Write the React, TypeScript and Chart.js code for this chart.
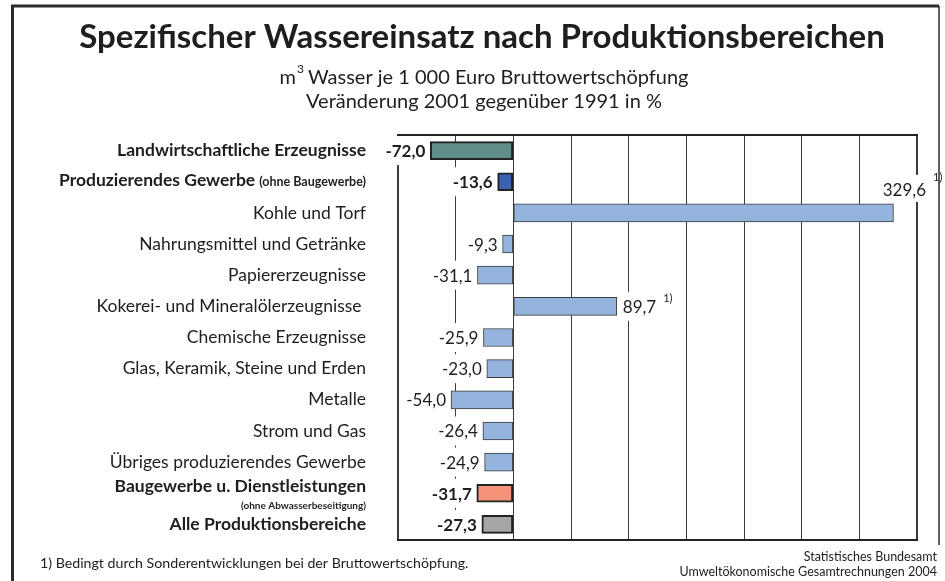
import React, { useEffect, useRef } from 'react';
import { Chart, registerables } from 'chart.js';

Chart.register(...registerables);

// ---------- data ----------
const categories = [
  'Landwirtschaftliche Erzeugnisse',
  'Produzierendes Gewerbe',
  'Kohle und Torf',
  'Nahrungsmittel und Getränke',
  'Papiererzeugnisse',
  'Kokerei- und Mineralölerzeugnisse ',
  'Chemische Erzeugnisse',
  'Glas, Keramik, Steine und Erden',
  'Metalle',
  'Strom und Gas',
  'Übriges produzierendes Gewerbe',
  'Baugewerbe u. Dienstleistungen',
  'Alle Produktionsbereiche',
];
const categoryNotes = ['', '(ohne Baugewerbe)', '', '', '', '', '', '', '', '', '', '(ohne Abwasserbeseitigung)', ''];
const values = [-72.0, -13.6, 329.6, -9.3, -31.1, 89.7, -25.9, -23.0, -54.0, -26.4, -24.9, -31.7, -27.3];
const footnoteMarks = ['', '', '1)', '', '', '1)', '', '', '', '', '', '', ''];
const summaryRows = [true, true, false, false, false, false, false, false, false, false, false, true, true];
const xMin = -100;
const xMax = 350;
const xStep = 50;

const titleText = 'Spezifischer Wassereinsatz nach Produktionsbereichen';
const subtitleUnitA = 'm';
const subtitleUnitSup = '3';
const subtitleUnitB = ' Wasser je 1 000 Euro Bruttowertschöpfung';
const subtitle2 = 'Veränderung 2001 gegenüber 1991 in %';
const footnoteText = '1) Bedingt durch Sonderentwicklungen bei der Bruttowertschöpfung.';
const sourceLine1 = 'Statistisches Bundesamt';
const sourceLine2 = 'Umweltökonomische Gesamtrechnungen 2004';

// ---------- styles ----------
const FONT = 'Lato, "Open Sans", sans-serif';
const summaryColors = ['#5f8f88', '#3b62b0', '', '', '', '', '', '', '', '', '', '#f4937a', '#a6a6a9'];
const detailColor = '#94b4de';
const TEXT = '#1e1e1e';

const fmt = (v: number) => v.toFixed(1).replace('.', ',');

const textPlugin = {
  id: 'customTexts',
  afterDatasetsDraw(chart: any) {
    const { ctx, chartArea, scales } = chart;
    const x = scales.x;
    const y = scales.y;
    ctx.save();
    ctx.textBaseline = 'middle';

    // value labels with white boxes (they interrupt the grid)
    values.forEach((v, i) => {
      const yc = y.getPixelForValue(i);
      const xe = x.getPixelForValue(v);
      const bold = summaryRows[i];
      ctx.font = `${bold ? 'bold ' : ''}17px ${FONT}`;
      const label = fmt(v);
      const w = ctx.measureText(label).width;
      let left: number;
      let ty = yc;
      let above = false;
      if (v < 0) {
        left = xe - 5 - w;
      } else {
        left = xe + 6;
        if (left + w > chartArea.right - 4) {
          left = chartArea.right + 9 - w;
          ty = yc - 23;
          above = true;
        }
      }
      ctx.fillStyle = '#ffffff';
      if (above) ctx.fillRect(left - 2, ty - 15, w + 4, 27);
      else ctx.fillRect(left - 2, ty - 14.5, w + 4, 29);
      ctx.fillStyle = TEXT;
      ctx.textAlign = 'left';
      ctx.fillText(label, left, ty + 1);
      if (footnoteMarks[i]) {
        ctx.font = `11px ${FONT}`;
        ctx.fillText(footnoteMarks[i], left + w + 7, ty + 1 - (above ? 13 : 9));
      }
    });

    // plot frame top & bottom
    ctx.strokeStyle = '#222';
    ctx.lineWidth = 2;
    ctx.beginPath();
    ctx.moveTo(chartArea.left - 1, chartArea.top);
    ctx.lineTo(chartArea.right + 1, chartArea.top);
    ctx.moveTo(chartArea.left - 1, chartArea.bottom);
    ctx.lineTo(chartArea.right + 1, chartArea.bottom);
    ctx.stroke();
    ctx.restore();
  },
  afterDraw(chart: any) {
    const { ctx, scales } = chart;
    const y = scales.y;
    const W = chart.width;
    ctx.save();
    ctx.fillStyle = TEXT;
    ctx.textBaseline = 'middle';

    // category labels
    const labelRight = 366;
    categories.forEach((c, i) => {
      const yc = y.getPixelForValue(i);
      const bold = summaryRows[i];
      const note = categoryNotes[i];
      ctx.textAlign = 'right';
      if (note && i === 1) {
        ctx.font = `bold 12.5px ${FONT}`;
        const nw = ctx.measureText(note).width;
        ctx.fillText(note, labelRight, yc);
        ctx.font = `bold 17.5px ${FONT}`;
        ctx.fillText(c, labelRight - nw - 4, yc - 1);
      } else if (note) {
        ctx.font = `bold 17.5px ${FONT}`;
        ctx.fillText(c, labelRight, yc - 7);
        ctx.font = `bold 10px ${FONT}`;
        ctx.fillText(note, labelRight, yc + 13);
      } else {
        ctx.font = `${bold ? 'bold ' : ''}17.5px ${FONT}`;
        ctx.fillText(c, labelRight, yc);
      }
    });

    // title
    ctx.textAlign = 'center';
    ctx.font = `bold 33px ${FONT}`;
    ctx.fillText(titleText, 482, 37);

    // subtitle line 1 with superscript
    ctx.font = `20px ${FONT}`;
    const wA = ctx.measureText(subtitleUnitA).width;
    const wB = ctx.measureText(subtitleUnitB).width;
    ctx.font = `12px ${FONT}`;
    const wS = ctx.measureText(subtitleUnitSup).width;
    const total = wA + wS + wB;
    const sx = 484 - total / 2;
    ctx.textAlign = 'left';
    ctx.font = `20px ${FONT}`;
    ctx.fillText(subtitleUnitA, sx, 78);
    ctx.font = `12px ${FONT}`;
    ctx.fillText(subtitleUnitSup, sx + wA + 1, 69);
    ctx.font = `20px ${FONT}`;
    ctx.fillText(subtitleUnitB, sx + wA + wS, 78);
    ctx.textAlign = 'center';
    ctx.fillText(subtitle2, 484, 102);

    // footnote & source
    ctx.textAlign = 'left';
    ctx.font = `14.2px ${FONT}`;
    ctx.fillText(footnoteText, 40, 563);
    ctx.textAlign = 'right';
    ctx.font = `12.5px ${FONT}`;
    ctx.fillText(sourceLine1, 937, 557);
    ctx.fillText(sourceLine2, 937, 572);

    // outer frame
    ctx.strokeStyle = '#2a2a2a';
    ctx.lineWidth = 3;
    ctx.beginPath();
    ctx.moveTo(12.5, chart.height);
    ctx.lineTo(12.5, 6);
    ctx.lineTo(W - 6, 6);
    ctx.stroke();
    ctx.lineWidth = 1.5;
    ctx.beginPath();
    ctx.moveTo(939, 6);
    ctx.lineTo(939, 545);
    ctx.stroke();
    ctx.restore();
  },
};

export default function App() {
  const canvasRef = useRef<HTMLCanvasElement | null>(null);

  useEffect(() => {
    document.body.style.margin = '0';
    const canvas = canvasRef.current;
    if (!canvas) return;
    const chart = new Chart(canvas, {
      type: 'bar',
      data: {
        labels: categories,
        datasets: [
          {
            data: values,
            backgroundColor: values.map((_, i) => summaryColors[i] || detailColor),
            borderColor: values.map((_, i) => (summaryRows[i] ? '#222222' : '#3a3a3a')),
            borderWidth: values.map((_, i) => (summaryRows[i] ? 2 : 1)),
            borderSkipped: false,
            barThickness: 18,
          },
        ],
      },
      options: {
        indexAxis: 'y',
        animation: false,
        responsive: true,
        maintainAspectRatio: false,
        layout: { padding: { left: 398, right: 28, top: 135, bottom: 41 } },
        plugins: {
          legend: { display: false },
          tooltip: { enabled: false },
          title: { display: false },
        },
        scales: {
          x: {
            min: xMin,
            max: xMax,
            ticks: { display: false, stepSize: xStep },
            border: { display: false },
            grid: {
              color: '#3c3c3c',
              lineWidth: (ctx: any) => (ctx.tick && (ctx.tick.value === xMin || ctx.tick.value === xMax) ? 2 : 1),
              drawTicks: false,
            },
          },
          y: {
            display: false,
          },
        },
      },
      plugins: [textPlugin],
    });
    return () => chart.destroy();
  }, []);

  return (
    <div style={{ position: 'relative', width: 945, height: 581 }}>
      <canvas ref={canvasRef} />
    </div>
  );
}
